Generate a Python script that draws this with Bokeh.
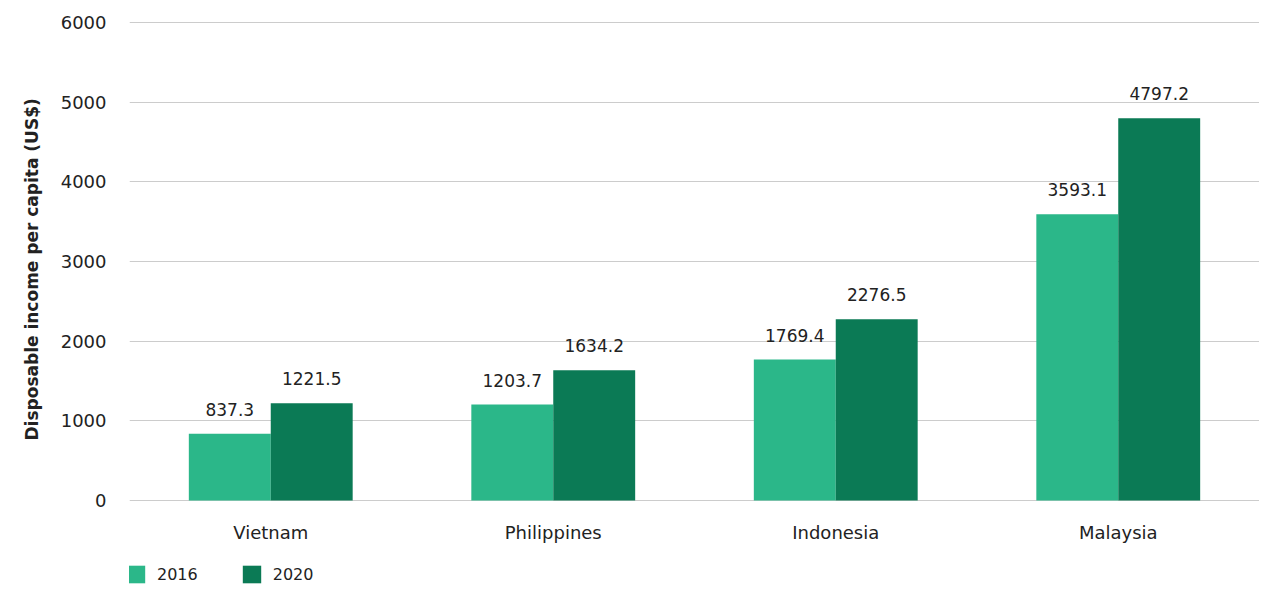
from bokeh.plotting import figure
from bokeh.models import ColumnDataSource, FactorRange, Range1d, Legend, LegendItem, FixedTicker, Title
from bokeh.transform import dodge
from bokeh.embed import file_html
from bokeh.resources import INLINE
from bokeh.core.properties import value

countries = ["Vietnam", "Philippines", "Indonesia", "Malaysia"]
y2016 = [837.3, 1203.7, 1769.4, 3593.1]
y2020 = [1221.5, 1634.2, 2276.5, 4797.2]
labels2016 = ["837.3", "1203.7", "1769.4", "3593.1"]
labels2020 = ["1221.5", "1634.2", "2276.5", "4797.2"]
yticks = [0, 1000, 2000, 3000, 4000, 5000, 6000]
ytitle = "Disposable income per capita (US$)"

FONT = "DejaVu Sans"
C16 = "#2BB789"
C20 = "#0B7A55"
TXT = "#222222"

src = ColumnDataSource(dict(c=countries, a=y2016, b=y2020, la=labels2016, lb=labels2020,
                            zero=[0] * len(countries)))

p = figure(x_range=FactorRange(*countries, range_padding=0), y_range=Range1d(-1092, 6012.6),
           width=1259, height=587, output_backend="svg", toolbar_location=None,
           min_border_left=129, min_border_right=0, min_border_top=21, min_border_bottom=0)
p.outline_line_color = None
p.background_fill_color = "white"

W = 0.29
r1 = p.vbar(x=dodge("c", -W / 2, range=p.x_range), top="a", width=W, source=src,
            fill_color=C16, line_color=None)
r2 = p.vbar(x=dodge("c", W / 2, range=p.x_range), top="b", width=W, source=src,
            fill_color=C20, line_color=None)

p.text(x=dodge("c", -W / 2, range=p.x_range), y="a", text="la", source=src,
       text_align="center", text_baseline="bottom", y_offset=-18,
       text_font=value(FONT), text_font_size="17px", text_color=TXT)
p.text(x=dodge("c", W / 2, range=p.x_range), y="b", text="lb", source=src,
       text_align="center", text_baseline="bottom", y_offset=-18,
       text_font=value(FONT), text_font_size="17px", text_color=TXT)

# category labels under the baseline
p.text(x="c", y="zero", text="c", source=src, text_align="center", text_baseline="middle",
       y_offset=32, text_font=value(FONT), text_font_size="18px", text_color=TXT)

p.xaxis.visible = False
p.xgrid.grid_line_color = None
p.ygrid.grid_line_color = "#cccccc"
p.ygrid.ticker = FixedTicker(ticks=yticks)

p.yaxis.ticker = FixedTicker(ticks=yticks)
p.yaxis.axis_line_color = None
p.yaxis.major_tick_line_color = None
p.yaxis.minor_tick_line_color = None
p.yaxis.major_label_standoff = 17
p.yaxis.major_label_text_font = FONT
p.yaxis.major_label_text_font_size = "18px"
p.yaxis.major_label_text_color = TXT

t = Title(text=ytitle, align="left", offset=147, standoff=28, vertical_align="top",
          text_font=FONT, text_font_style="bold", text_font_size="17px", text_color=TXT)
p.add_layout(t, "left")

legend = Legend(items=[LegendItem(label="2016", renderers=[r1]),
                       LegendItem(label="2020", renderers=[r2])],
                location=(-5, 2), orientation="horizontal",
                glyph_width=23, glyph_height=22, label_standoff=10, spacing=42,
                padding=0, margin=0, border_line_color=None, background_fill_alpha=0,
                label_text_font=FONT, label_text_font_size="16px", label_text_color=TXT)
p.add_layout(legend, "center")

open("out.html", "w").write(file_html(p, INLINE))
